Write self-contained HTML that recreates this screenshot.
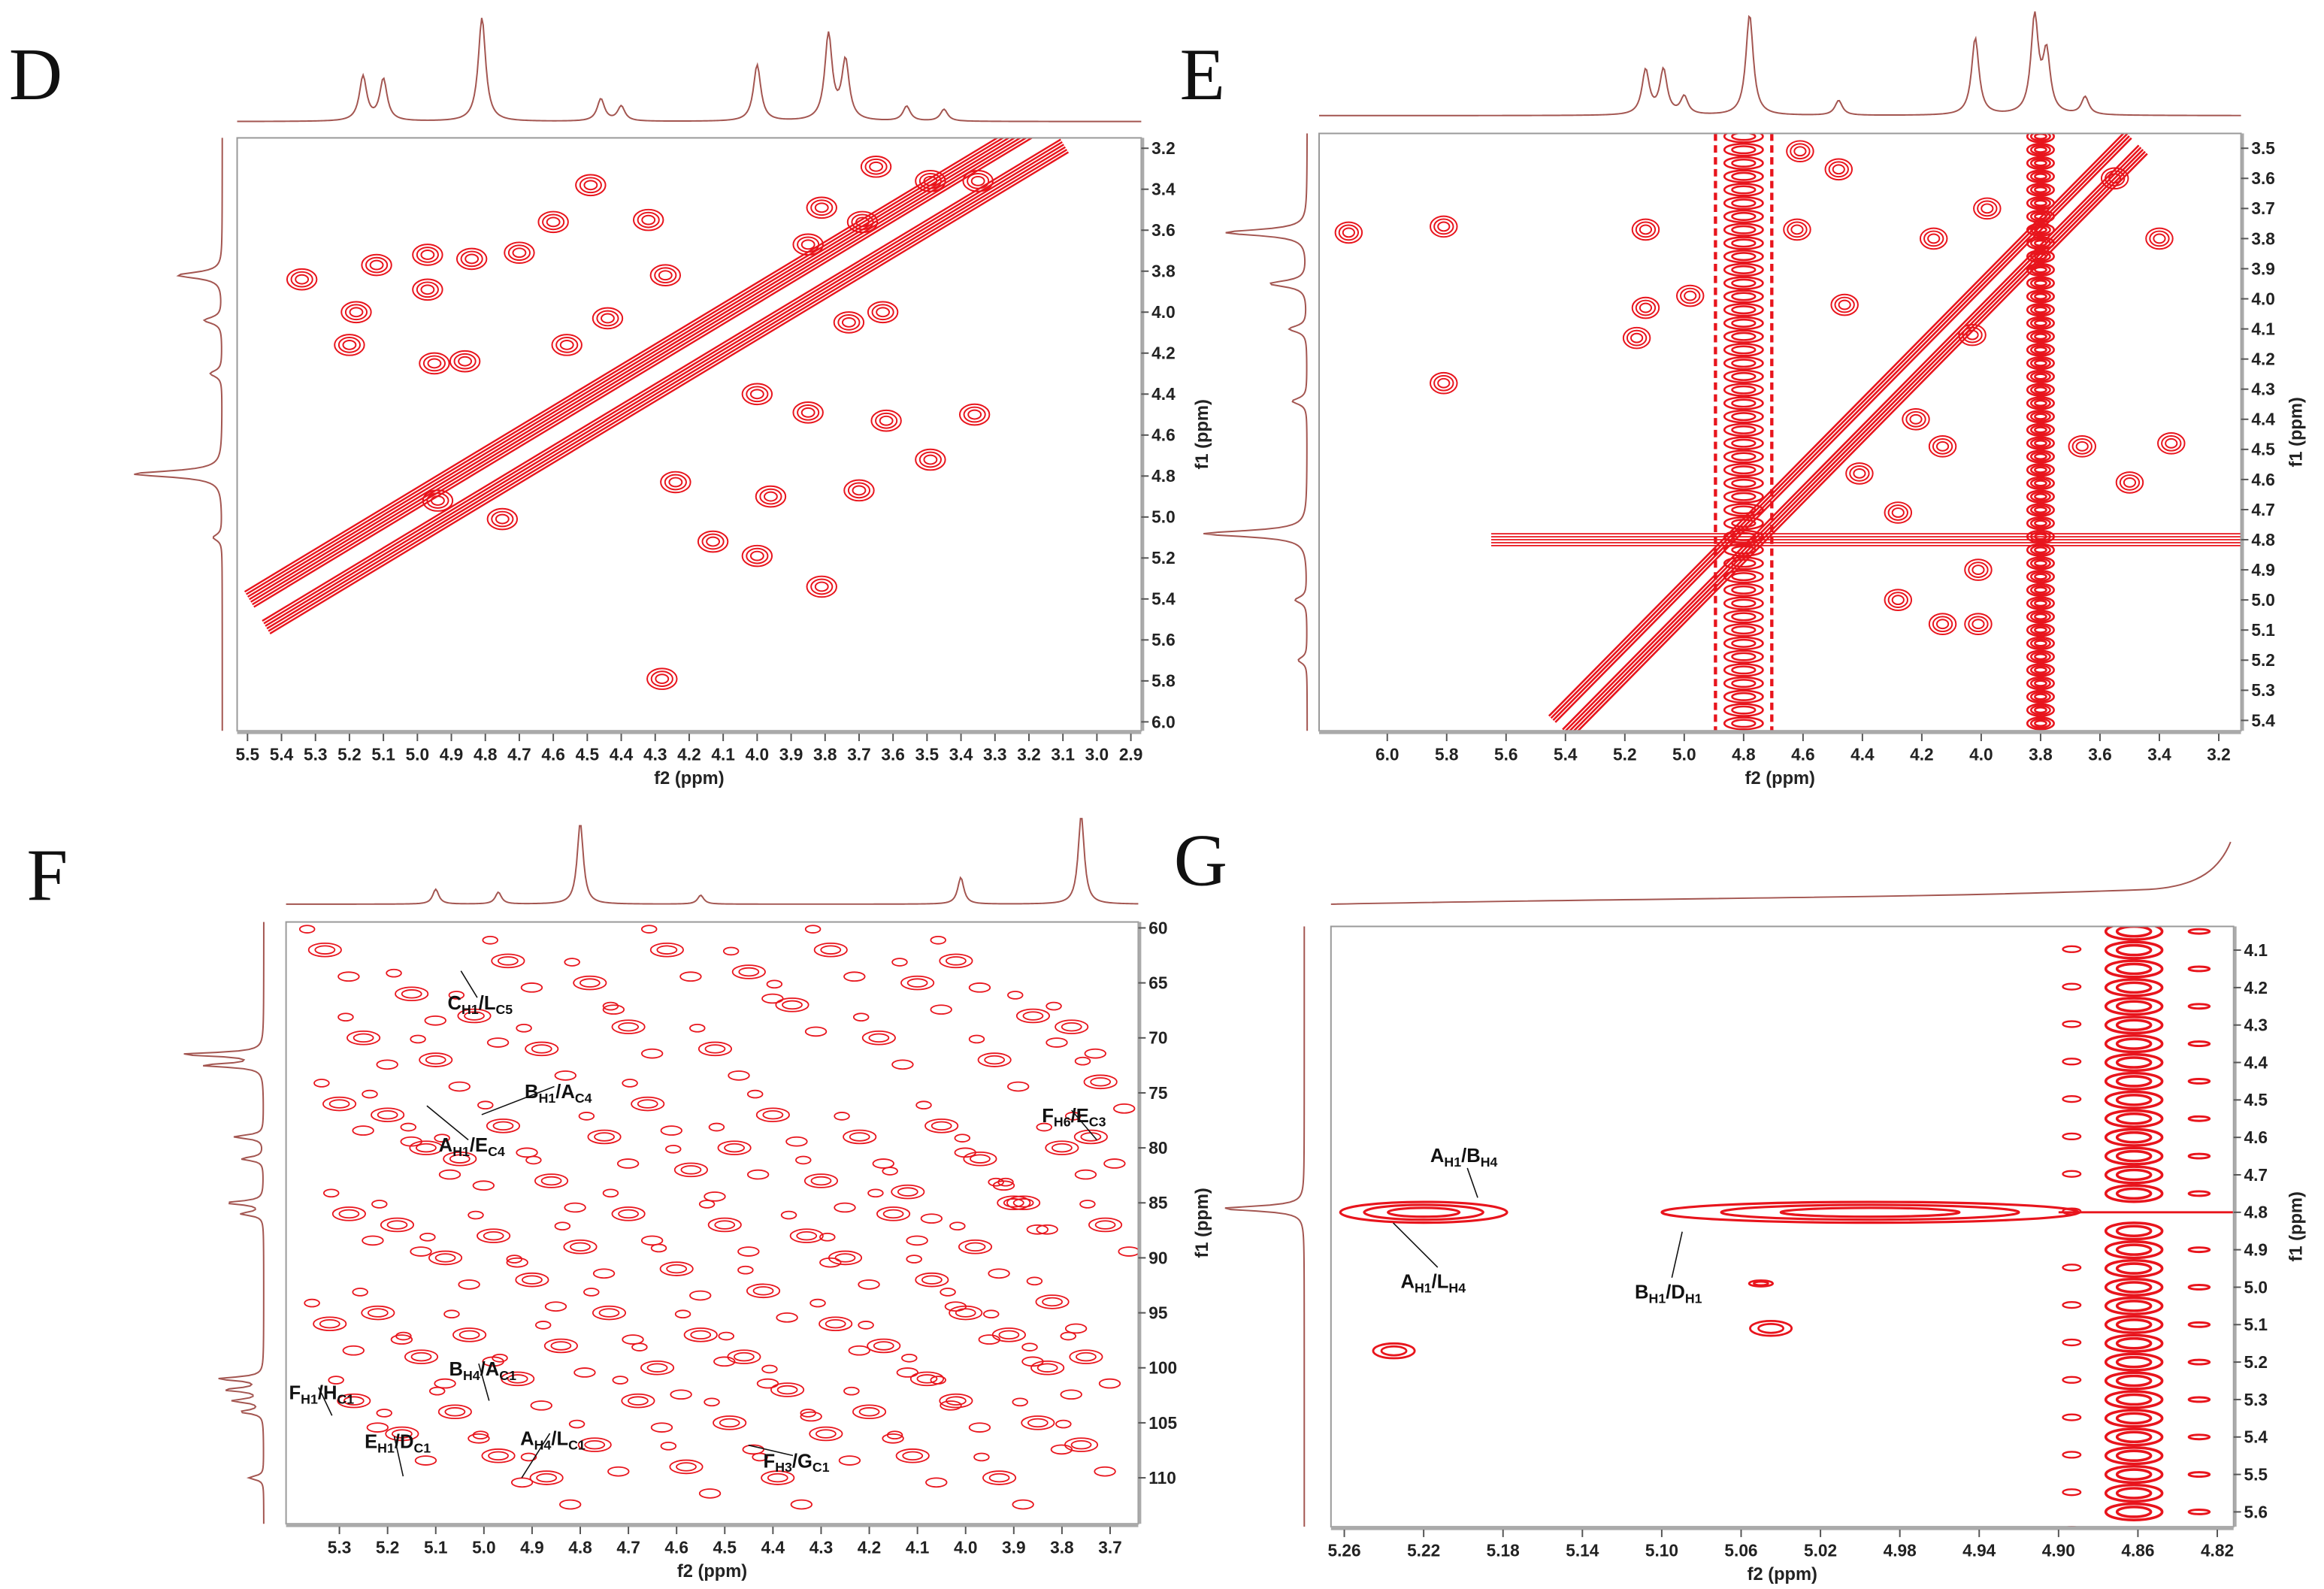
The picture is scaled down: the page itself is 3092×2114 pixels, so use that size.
<!DOCTYPE html>
<html><head><meta charset="utf-8"><style>
html,body{margin:0;padding:0;background:#fff;}
svg{display:block;font-family:"Liberation Sans",sans-serif;}
.tk{font-size:11.5px;font-weight:bold;fill:#222;}
.ax{font-size:12px;font-weight:bold;fill:#222;}
.pl{font-family:"Liberation Serif",serif;font-size:50px;fill:#111;}
.an{font-size:13px;font-weight:bold;fill:#111;}
.an tspan.s{font-size:9px;}
</style></head><body>
<svg id="fig" width="3092" height="2114" viewBox="0 0 1568 1072" xmlns="http://www.w3.org/2000/svg">
<defs>
<clipPath id="cD"><rect x="160" y="93" width="610" height="400"/></clipPath>
<clipPath id="cE"><rect x="890" y="90" width="622" height="403"/></clipPath>
<clipPath id="cF"><rect x="193" y="622" width="575" height="406"/></clipPath>
<clipPath id="cG"><rect x="898" y="625" width="609" height="405"/></clipPath>
</defs>
</svg>
<script>
const NS="http://www.w3.org/2000/svg";
const svg=document.getElementById('fig');
const RED="#e8141c", SPEC="#a35550";

// ---------- DATA ----------
const dTicksX=[5.5,5.4,5.3,5.2,5.1,5.0,4.9,4.8,4.7,4.6,4.5,4.4,4.3,4.2,4.1,4.0,3.9,3.8,3.7,3.6,3.5,3.4,3.3,3.2,3.1,3.0,2.9];
const dTicksY=[3.2,3.4,3.6,3.8,4.0,4.2,4.4,4.6,4.8,5.0,5.2,5.4,5.6,5.8,6.0];
const dPeakX=[4.49,3.65,3.49,3.81,3.69,3.35,4.32,4.60,4.70,4.97,4.84,5.34,5.12,4.97,5.18,4.44,5.20,4.95,4.86,4.27,3.85,3.63,4.00,3.85,3.62,3.49,3.36,3.70,3.96,4.00,4.24,4.13,3.81,4.28,4.75,4.94,4.56,3.73];
const dPeakY=[3.38,3.29,3.36,3.49,3.56,3.36,3.55,3.56,3.71,3.72,3.74,3.84,3.77,3.89,4.00,4.03,4.16,4.25,4.24,3.82,3.67,4.00,4.40,4.49,4.53,4.72,4.50,4.87,4.90,5.19,4.83,5.12,5.34,5.79,5.01,4.92,4.16,4.05];
const dDiag=[5.47,3.12];

const eTicksX=[6.0,5.8,5.6,5.4,5.2,5.0,4.8,4.6,4.4,4.2,4.0,3.8,3.6,3.4,3.2];
const eTicksY=[3.5,3.6,3.7,3.8,3.9,4.0,4.1,4.2,4.3,4.4,4.5,4.6,4.7,4.8,4.9,5.0,5.1,5.2,5.3,5.4];
const ePeakX=[6.13,5.81,5.81,5.13,5.13,4.98,5.16,4.61,4.62,4.48,4.16,4.46,4.01,4.01,4.13,3.36,3.50,3.66,4.41,4.28,3.98,4.13,4.03,4.28,4.22,3.40,3.55];
const ePeakY=[3.78,3.76,4.28,3.77,4.03,3.99,4.13,3.51,3.77,3.57,3.80,4.02,4.90,5.08,5.08,4.48,4.61,4.49,4.58,4.71,3.70,4.49,4.12,5.00,4.40,3.80,3.60];
const eDiag=[5.42,3.48];
const eStripes=[4.80,3.80];
const eRidge=4.80;

const fTicksX=[5.3,5.2,5.1,5.0,4.9,4.8,4.7,4.6,4.5,4.4,4.3,4.2,4.1,4.0,3.9,3.8,3.7];
const fTicksY=[60,65,70,75,80,85,90,95,100,105,110];
const fPeakX=[5.33,5.25,5.15,5.10,5.02,4.95,4.88,4.78,4.70,4.62,4.52,4.45,4.36,4.28,4.18,4.10,4.02,3.94,3.86,3.78,3.72,
5.30,5.20,5.12,5.05,4.96,4.86,4.75,4.66,4.57,4.48,4.40,4.30,4.22,4.12,4.05,3.97,3.90,3.80,3.74,
5.28,5.18,5.08,4.98,4.90,4.80,4.70,4.60,4.50,4.42,4.33,4.25,4.15,4.07,3.98,3.88,3.82,3.71,
5.32,5.22,5.13,5.03,4.93,4.84,4.74,4.64,4.55,4.46,4.37,4.27,4.17,4.08,4.00,3.91,3.83,3.75,
5.27,5.17,5.06,4.97,4.87,4.77,4.68,4.58,4.49,4.39,4.29,4.20,4.11,4.02,3.93,3.85,3.76];
const fPeakY=[62,70,66,72,68,63,71,65,69,62,71,64,67,62,70,65,63,72,68,69,74,
76,77,80,81,78,83,79,76,82,80,77,83,79,84,78,81,85,80,79,
86,87,90,88,92,89,86,91,87,93,88,90,86,92,89,85,94,87,
96,95,99,97,101,98,95,100,97,99,102,96,98,101,95,97,100,99,
103,106,104,108,110,107,103,109,105,110,106,104,108,103,110,105,107];

const gTicksX=[5.26,5.22,5.18,5.14,5.10,5.06,5.02,4.98,4.94,4.90,4.86,4.82];
const gTicksY=[4.1,4.2,4.3,4.4,4.5,4.6,4.7,4.8,4.9,5.0,5.1,5.2,5.3,5.4,5.5,5.6];
const gLongX=[5.22,4.995];
const gLongHalf=[0.042,0.105];
const gLongY=[4.80,4.80];
const gSmallX=[5.235,5.045,5.05];
const gSmallY=[5.17,5.11,4.99];
const gColX=4.862;
const gColY=[4.05,4.10,4.15,4.20,4.25,4.30,4.35,4.40,4.45,4.50,4.55,4.60,4.65,4.70,4.75,4.85,4.90,4.95,5.00,5.05,5.10,5.15,5.20,5.25,5.30,5.35,5.40,5.45,5.50,5.55,5.60];

const dTopPos=[5.16,5.10,4.81,4.46,4.40,4.00,3.79,3.74,3.56,3.45];
const dTopH=[30,28,70,15,10,38,58,40,10,8];
const dLeftPos=[3.82,4.04,4.3,4.79,5.1];
const dLeftH=[30,12,8,60,6];
const eTopPos=[5.13,5.07,5.0,4.78,4.48,4.02,3.82,3.78,3.65];
const eTopH=[30,30,12,68,10,52,65,40,12];
const eLeftPos=[3.78,3.95,4.1,4.34,4.78,5.0,5.2];
const eLeftH=[55,25,12,10,70,8,6];
const fTopPos=[5.1,4.97,4.80,4.55,4.01,3.76];
const fTopH=[10,8,55,6,18,60];
const fLeftPos=[71.5,72.5,79,81,85,86,101,102,103,104,110];
const fLeftH=[55,40,20,15,25,15,30,25,20,15,10];
const gLeftPos=[4.79];
const gLeftH=[55];

// ---------- HELPERS ----------
function mk(tag,parent){const e=document.createElementNS(NS,tag);parent.appendChild(e);return e;}
function lin(d0,d1,p0,p1){return v=>p0+(v-d0)/(d1-d0)*(p1-p0);}

function axes(g,box,X,Y,tx,ty,fmtx,fmty,ylabX){
  const r=mk('rect',g);
  
  
  r.setAttribute('x',box[0]);r.setAttribute('y',box[1]);r.setAttribute('width',box[2]-box[0]);r.setAttribute('height',box[3]-box[1]);
  r.setAttribute('fill','none');r.setAttribute('stroke','#999');r.setAttribute('stroke-width','1');
  const bl=mk('line',g);
  
  
  bl.setAttribute('x1',box[0]);bl.setAttribute('x2',box[2]);bl.setAttribute('y1',box[3]+1);bl.setAttribute('y2',box[3]+1);
  bl.setAttribute('stroke','#aaa');bl.setAttribute('stroke-width','2.5');
  tx.forEach(v=>{
    const x=X(v);
    const l=mk('line',g);
    
    
    l.setAttribute('x1',x);l.setAttribute('x2',x);l.setAttribute('y1',box[3]+2);l.setAttribute('y2',box[3]+7);l.setAttribute('stroke','#555');
    const t=mk('text',g);
    
    
    t.setAttribute('class','tk');t.setAttribute('x',x);t.setAttribute('y',box[3]+20);t.setAttribute('text-anchor','middle');
    t.textContent=fmtx(v);
  });
  const rl=mk('line',g);
  
  
  rl.setAttribute('x1',box[2]+1);rl.setAttribute('x2',box[2]+1);rl.setAttribute('y1',box[1]);rl.setAttribute('y2',box[3]);
  rl.setAttribute('stroke','#aaa');rl.setAttribute('stroke-width','2');
  ty.forEach(v=>{
    const y=Y(v);
    const l=mk('line',g);
    
    
    l.setAttribute('x1',box[2]);l.setAttribute('x2',box[2]+5);l.setAttribute('y1',y);l.setAttribute('y2',y);l.setAttribute('stroke','#555');
    const t=mk('text',g);
    
    
    t.setAttribute('class','tk');t.setAttribute('x',box[2]+7);t.setAttribute('y',y+4);
    t.textContent=fmty(v);
  });
  const xt=mk('text',g);
  
  
  xt.setAttribute('class','ax');xt.setAttribute('x',(box[0]+box[2])/2);xt.setAttribute('y',box[3]+36);xt.setAttribute('text-anchor','middle');
  xt.textContent='f2 (ppm)';
  const yt=mk('text',g);
  
  
  const cy=(box[1]+box[3])/2;
  yt.setAttribute('class','ax');yt.setAttribute('text-anchor','middle');
  yt.setAttribute('transform','translate('+ylabX+','+cy+') rotate(-90)');
  yt.textContent='f1 (ppm)';
}

function ell(g,cx,cy,rx,ry,n,w){
  for(let k=0;k<n;k++){
    const f=1-k/(n+0.5);
    const e=mk('ellipse',g);
    
    
    e.setAttribute('cx',cx);e.setAttribute('cy',cy);e.setAttribute('rx',Math.max(0.8,rx*f));e.setAttribute('ry',Math.max(0.8,ry*f));
    e.setAttribute('fill','none');e.setAttribute('stroke',RED);e.setAttribute('stroke-width',w||1);
  }
}

function spectrumTop(g,X,x0,x1,base,pos,hts,w){
  let d='';
  for(let px=x0;px<=x1;px+=1){
    let s=0;
    pos.forEach((p,i)=>{const dx=(px-X(p))/w;s+=hts[i]/(1+dx*dx);});
    d+=(px===x0?'M':'L')+px+','+(base-s).toFixed(2);
  }
  const p=mk('path',g);
  
  
  p.setAttribute('d',d);p.setAttribute('fill','none');p.setAttribute('stroke',SPEC);p.setAttribute('stroke-width','1');
}
function spectrumLeft(g,Y,y0,y1,base,pos,hts,w){
  let d='';
  for(let py=y0;py<=y1;py+=1){
    let s=0;
    pos.forEach((p,i)=>{const dy=(py-Y(p))/w;s+=hts[i]/(1+dy*dy);});
    d+=(py===y0?'M':'L')+(base-s).toFixed(2)+','+py;
  }
  const p=mk('path',g);
  
  
  p.setAttribute('d',d);p.setAttribute('fill','none');p.setAttribute('stroke',SPEC);p.setAttribute('stroke-width','1');
}
function panelLetter(g,x,y,s){
  const t=mk('text',g);
  
  
  t.setAttribute('class','pl');t.setAttribute('x',x);t.setAttribute('y',y);t.textContent=s;
}
function band(g,X,Y,ends,offs,w){
  const a=[X(ends[0]),Y(ends[0])], b=[X(ends[1]),Y(ends[1])];
  const dx=b[0]-a[0], dy=b[1]-a[1], L=Math.hypot(dx,dy), nx=-dy/L, ny=dx/L;
  offs.forEach(o=>{
    const l=mk('line',g);
    
    
    l.setAttribute('x1',a[0]+nx*o);l.setAttribute('y1',a[1]+ny*o);l.setAttribute('x2',b[0]+nx*o);l.setAttribute('y2',b[1]+ny*o);
    l.setAttribute('stroke',RED);l.setAttribute('stroke-width',w);
  });
}
const f1=v=>v.toFixed(1), f0=v=>String(v), f2=v=>v.toFixed(2);

// ---------- PANEL D ----------
(function(){
  const g=mk('g',svg);
  
  
  const box=[160,93,770,493];
  const X=lin(5.5,2.9,167,763), Y=lin(3.2,6.0,100,487);
  panelLetter(g,6,67,'D');
  spectrumTop(g,X,160,770,82,dTopPos,dTopH,3);
  spectrumLeft(g,Y,93,493,150,dLeftPos,dLeftH,2.5);
  const c=mk('g',g);
  
  
  c.setAttribute('clip-path','url(#cD)');
  band(c,X,Y,dDiag,[-17,-15,-13,-11,-9,-7,-5,6,8,10,12,14,16],1.2);
  dPeakX.forEach((x,i)=>ell(c,X(x),Y(dPeakY[i]),10,7,3,1));
  axes(g,box,X,Y,dTicksX,dTicksY,f1,f1,815);
})();

// ---------- PANEL E ----------
(function(){
  const g=mk('g',svg);
  
  
  const box=[890,90,1512,493];
  const X=lin(6.0,3.2,936,1497), Y=lin(3.5,5.4,100,486);
  panelLetter(g,796,67,'E');
  spectrumTop(g,X,890,1512,78,eTopPos,eTopH,3);
  spectrumLeft(g,Y,90,493,882,eLeftPos,eLeftH,2.5);
  const c=mk('g',g);
  
  
  c.setAttribute('clip-path','url(#cE)');
  band(c,X,Y,eDiag,[-10,-8,-6,-4,3,5,7,9,11],1.3);
  [-4,-2,0,2,4].forEach(o=>{
    const l=mk('line',c);
    
    
    l.setAttribute('x1',X(5.65));l.setAttribute('x2',box[2]);l.setAttribute('y1',Y(eRidge)+o);l.setAttribute('y2',Y(eRidge)+o);
    l.setAttribute('stroke',RED);l.setAttribute('stroke-width','0.9');
  });
  eStripes.forEach((s,si)=>{
    for(let y=92;y<493;y+=9){ell(c,X(s),y,si===0?13:9,4,si===0?2:3,1.3);}
    if(si===0){[-1,1].forEach(sg=>{
      const l=mk('line',c);
      
      
      l.setAttribute('x1',X(s)+sg*19);l.setAttribute('x2',X(s)+sg*19);l.setAttribute('y1',90);l.setAttribute('y2',493);
      l.setAttribute('stroke',RED);l.setAttribute('stroke-width','2.2');l.setAttribute('stroke-dasharray','5,3');
    });}
  });
  ePeakX.forEach((x,i)=>ell(c,X(x),Y(ePeakY[i]),9,7,3,1));
  axes(g,box,X,Y,eTicksX,eTicksY,f1,f1,1553);
})();

// ---------- PANEL F ----------
(function(){
  const g=mk('g',svg);
  
  
  const box=[193,622,768,1028];
  const X=lin(5.3,3.7,229,749), Y=lin(60,110,626,997);
  panelLetter(g,18,607,'F');
  spectrumTop(g,X,193,768,610,fTopPos,fTopH,2.5);
  spectrumLeft(g,Y,622,1028,178,fLeftPos,fLeftH,1.5);
  const c=mk('g',g);
  
  
  c.setAttribute('clip-path','url(#cF)');
  fPeakX.forEach((x,i)=>{
    ell(c,X(x),Y(fPeakY[i]),11,4.5,2,0.9);
    ell(c,X(x)+16,Y(fPeakY[i])+18,7,3,1,0.9);
    ell(c,X(x)-12,Y(fPeakY[i])-14,5,2.5,1,0.9);
  });
  const labels=[['C','H1','L','C5',302,681,311,655],['B','H1','A','C4',354,741,325,752],['A','H1','E','C4',296,777,288,746],['F','H6','E','C3',703,757,740,769],
    ['F','H1','H','C1',195,944,224,955],['B','H4','A','C1',303,928,330,945],['E','H1','D','C1',246,977,272,996],['A','H4','L','C1',351,975,352,997],['F','H3','G','C1',515,990,505,975]];
  labels.forEach(L=>{
    const ln=mk('line',g);
    
    
    ln.setAttribute('x1',L[4]+20);ln.setAttribute('y1',L[5]-8);ln.setAttribute('x2',L[6]);ln.setAttribute('y2',L[7]);
    ln.setAttribute('stroke','#111');ln.setAttribute('stroke-width','0.8');
    const t=mk('text',g);
    
    
    t.setAttribute('class','an');t.setAttribute('x',L[4]);t.setAttribute('y',L[5]);
    t.innerHTML=L[0]+'<tspan class="s" dy="3">'+L[1]+'</tspan><tspan dy="-3">/'+L[2]+'</tspan><tspan class="s" dy="3">'+L[3]+'</tspan>';
  });
  axes(g,box,X,Y,fTicksX,fTicksY,f1,f0,815);
})();

// ---------- PANEL G ----------
(function(){
  const g=mk('g',svg);
  
  
  const box=[898,625,1507,1030];
  const X=lin(5.26,4.82,907,1496), Y=lin(4.1,5.6,641,1020);
  panelLetter(g,792,597,'G');
  const tp=mk('path',g);
  
  
  tp.setAttribute('d','M898,610 C1100,606 1300,606 1450,600 C1485,598 1498,585 1505,568');
  tp.setAttribute('fill','none');tp.setAttribute('stroke',SPEC);tp.setAttribute('stroke-width','1');
  spectrumLeft(g,Y,625,1030,880,gLeftPos,gLeftH,2);
  const c=mk('g',g);
  
  
  c.setAttribute('clip-path','url(#cG)');
  gLongX.forEach((x,i)=>{
    const rx=Math.abs(X(x+gLongHalf[i])-X(x));
    ell(c,X(x),Y(gLongY[i]),rx,7,3,1.6);
  });
  gSmallX.forEach((x,i)=>ell(c,X(x),Y(gSmallY[i]),i===2?8:14,i===2?2:5,2,1.4));
  gColY.forEach(y=>ell(c,X(gColX),Y(y),19,5.5,2,1.8));
  gColY.forEach((y,i)=>{if(i%2===0){ell(c,X(gColX)+44,Y(y),7,1.5,1,1.5);ell(c,X(gColX)-42,Y(y)+12,6,2,1,1.2);}});
  const rl=mk('line',c);
  
  
  rl.setAttribute('x1',X(4.90));rl.setAttribute('x2',box[2]);rl.setAttribute('y1',Y(4.8));rl.setAttribute('y2',Y(4.8));
  rl.setAttribute('stroke',RED);rl.setAttribute('stroke-width','1.5');
  const labels=[['A','H1','B','H4',965,784,997,808],['A','H1','L','H4',945,869,940,825],['B','H1','D','H1',1103,876,1135,831]];
  labels.forEach(L=>{
    const ln=mk('line',g);
    
    
    ln.setAttribute('x1',L[4]+25);ln.setAttribute('y1',L[5]+(L[5]<800?4:-14));ln.setAttribute('x2',L[6]);ln.setAttribute('y2',L[7]);
    ln.setAttribute('stroke','#111');ln.setAttribute('stroke-width','0.8');
    const t=mk('text',g);
    
    
    t.setAttribute('class','an');t.setAttribute('x',L[4]);t.setAttribute('y',L[5]);
    t.innerHTML=L[0]+'<tspan class="s" dy="3">'+L[1]+'</tspan><tspan dy="-3">/'+L[2]+'</tspan><tspan class="s" dy="3">'+L[3]+'</tspan>';
  });
  axes(g,box,X,Y,gTicksX,gTicksY,f2,f1,1553);
})();
</script>
</body></html>
